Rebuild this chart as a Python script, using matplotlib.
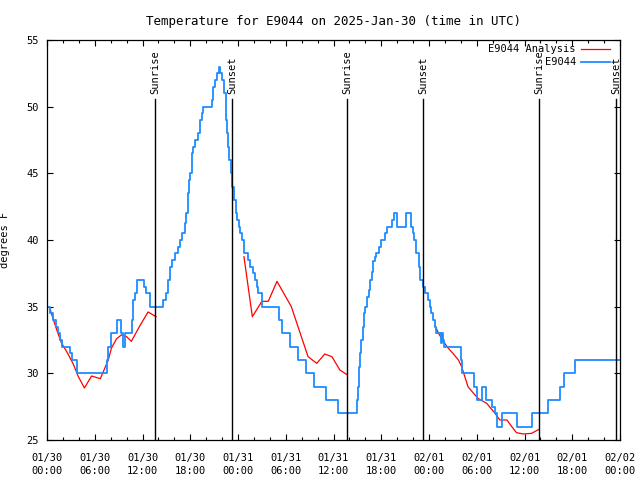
import numpy as np
import matplotlib
matplotlib.use("Agg")
import matplotlib.pyplot as plt
import matplotlib.dates as mdates

# observations (hours after 2025-01-30 00:00 UTC, degrees F), step changes
obs_hours = [0.0, 0.4, 0.7, 1.15, 1.4, 1.6, 1.85, 2.95, 3.1, 3.75,
             7.5, 7.7, 8.1, 8.8, 9.3, 9.55, 9.75, 10.7, 10.85, 11.0, 11.3, 12.2, 12.5, 13.0,
             14.6, 14.9, 15.2, 15.5, 15.7, 16.1, 16.5, 16.7, 17.0, 17.3, 17.5, 17.7, 17.9,
             18.0, 18.2, 18.4, 18.6, 19.0, 19.2, 19.5, 19.6, 20.7, 20.9, 21.1, 21.3, 21.6,
             21.8, 22.0, 22.3, 22.5, 22.65, 22.8, 22.9, 23.1, 23.3, 23.5, 23.7, 23.9, 24.1,
             24.3, 24.5, 24.75, 25.3, 25.5, 25.85, 26.1, 26.35, 26.55, 27.0, 29.1, 29.5,
             30.5, 31.6, 32.6, 33.5, 35.1, 36.6, 38.9, 39.1, 39.2, 39.35, 39.5, 39.65, 39.8,
             39.96, 40.2, 40.4, 40.6, 40.8, 41.0, 41.2, 41.4, 41.7, 42.0, 42.5, 42.7, 43.4,
             43.6, 44.0, 45.1, 45.8, 46.0, 46.1, 46.4, 46.7, 46.9, 47.3, 47.5, 47.9, 48.1,
             48.3, 48.5, 48.7, 48.9, 49.5, 49.6, 49.75, 49.9, 52.0, 52.2, 53.7, 54.0, 54.6,
             55.1, 55.9, 56.3, 56.6, 57.2, 59.05, 61.0, 63.0, 64.4, 65.0, 66.3, 72.0]
obs_temp = [35, 34.5, 34, 33.5, 33, 32.5, 32, 31.5, 31, 30,
            31, 32, 33, 34, 33, 32, 33, 34, 35.5, 36, 37, 36.5, 36, 35,
            35.5, 36, 37, 38, 38.5, 39, 39.5, 40, 40.5, 41.3, 42, 43.5, 44.5,
            45, 46.5, 47, 47.5, 48, 49, 49.5, 50, 50.5, 51.5, 52, 52.5, 53,
            52.5, 52, 51, 49, 48, 47, 46, 45, 44, 43, 42, 41.5, 41,
            40.5, 40, 39, 38.5, 38, 37.5, 37, 36.5, 36, 35, 34, 33,
            32, 31, 30, 29, 28, 27, 28, 29, 30.5, 31.5, 32.5, 33.5, 34.5,
            35, 35.75, 36.25, 37, 37.6, 38.4, 38.75, 39, 39.5, 40, 40.5, 41, 41.5,
            42, 41, 42, 41, 40.5, 40, 39, 38, 37, 36.5, 36, 35.5, 35,
            34.5, 34, 33.5, 33, 32.3, 33, 32.5, 32, 31, 30, 29, 28, 29,
            28, 27.5, 27, 26, 27, 26, 27, 28, 29, 30, 31, 31]

# analysis (NaN = no analysis)
ana_hours = [0.4, 0.6, 1.2, 1.8, 2.5, 3.3, 3.9, 4.7, 5.6, 6.7, 7.7, 8.1, 8.75, 9.4,
             10.0, 10.6, 11.7, 12.7, 13.7, 19.0,
             24.75, 25.8, 27.0, 27.8, 28.9, 30.7, 32.8, 33.9, 34.9, 35.8, 36.8, 37.7, 43.0,
             48.75, 49.2, 49.8, 50.4, 51.0, 51.7, 52.1, 52.9, 53.6, 54.2, 55.25, 56.3,
             56.9, 57.8, 58.4, 59.0, 59.85, 60.9, 61.5, 61.85]
ana_temp = [34.8, 34.4, 33.3, 32.3, 31.6, 30.7, 29.8, 28.9, 29.8, 29.6, 31.0, 31.9, 32.6, 32.9,
            32.75, 32.4, 33.6, 34.6, 34.25, np.nan,
            38.75, 34.25, 35.4, 35.4, 36.9, 35.0, 31.25, 30.75, 31.45, 31.25, 30.25, 29.9, np.nan,
            33.6, 33.0, 32.4, 31.9, 31.5, 31.0, 30.5, 29.0, 28.5, 28.1, 27.75, 27.0,
            26.5, 26.5, 26.0, 25.55, 25.45, 25.5, 25.7, 25.8]

sun_hours = [13.57, 23.29, 37.7, 47.3, 61.85, 71.5]
sun_labels = ["Sunrise", "Sunset", "Sunrise", "Sunset", "Sunrise", "Sunset"]

start = np.datetime64("2025-01-30T00:00")


def to_time(hours):
    return start + (np.array(hours) * 60).round().astype("timedelta64[m]")


plt.rcParams["font.family"] = "DejaVu Sans Mono"
plt.rcParams["font.size"] = 7.5

fig = plt.figure(figsize=(6.4, 4.8), dpi=100)
ax = fig.add_axes([47 / 640, 40 / 480, 573 / 640, 400 / 480])

ax.plot(to_time(ana_hours), ana_temp, color="#ff0000", lw=0.9)
ax.plot(to_time(obs_hours), obs_temp, color="#1e8cff", lw=1.3, drawstyle="steps-post")

for h, lab in zip(sun_hours, sun_labels):
    t = to_time([h])[0]
    ax.axvline(t, ymin=0, ymax=0.853, color="black", lw=1.0)
    ax.text(t, 0.866, lab, rotation=90, ha="center", va="bottom",
            transform=ax.get_xaxis_transform())

# legend, gnuplot style (text right aligned, sample on the right)
ax.text(0.923, 0.9775, "E9044 Analysis", ha="right", va="center", transform=ax.transAxes)
ax.plot([0.932, 0.9825], [0.9775, 0.9775], color="#ff0000", lw=0.9, transform=ax.transAxes)
ax.text(0.923, 0.945, "E9044", ha="right", va="center", transform=ax.transAxes)
ax.plot([0.932, 0.9825], [0.945, 0.945], color="#1e8cff", lw=1.3, transform=ax.transAxes)

ax.set_xlim(start, start + np.timedelta64(72, "h"))
ax.set_ylim(25, 55)
ax.set_yticks(np.arange(25, 56, 5))
ax.xaxis.set_major_locator(mdates.HourLocator(byhour=[0, 6, 12, 18]))
ax.xaxis.set_minor_locator(mdates.HourLocator(byhour=range(0, 24, 2)))
ax.xaxis.set_major_formatter(mdates.DateFormatter("%m/%d\n%H:%M"))
ax.tick_params(which="both", direction="in", top=True, right=True, width=0.8)
ax.tick_params(which="major", length=4.5, pad=6)
ax.tick_params(axis="x", which="major", pad=9)
ax.tick_params(which="minor", length=2.5)
for lab in ax.get_xticklabels():
    lab.set_linespacing(1.5)
for s in ax.spines.values():
    s.set_linewidth(0.9)

ax.set_ylabel("degrees F")
ax.yaxis.set_label_coords(-0.065, 0.5)
ax.set_title("Temperature for E9044 on 2025-Jan-30 (time in UTC)", pad=11)

fig.savefig("out.png", dpi=100)
